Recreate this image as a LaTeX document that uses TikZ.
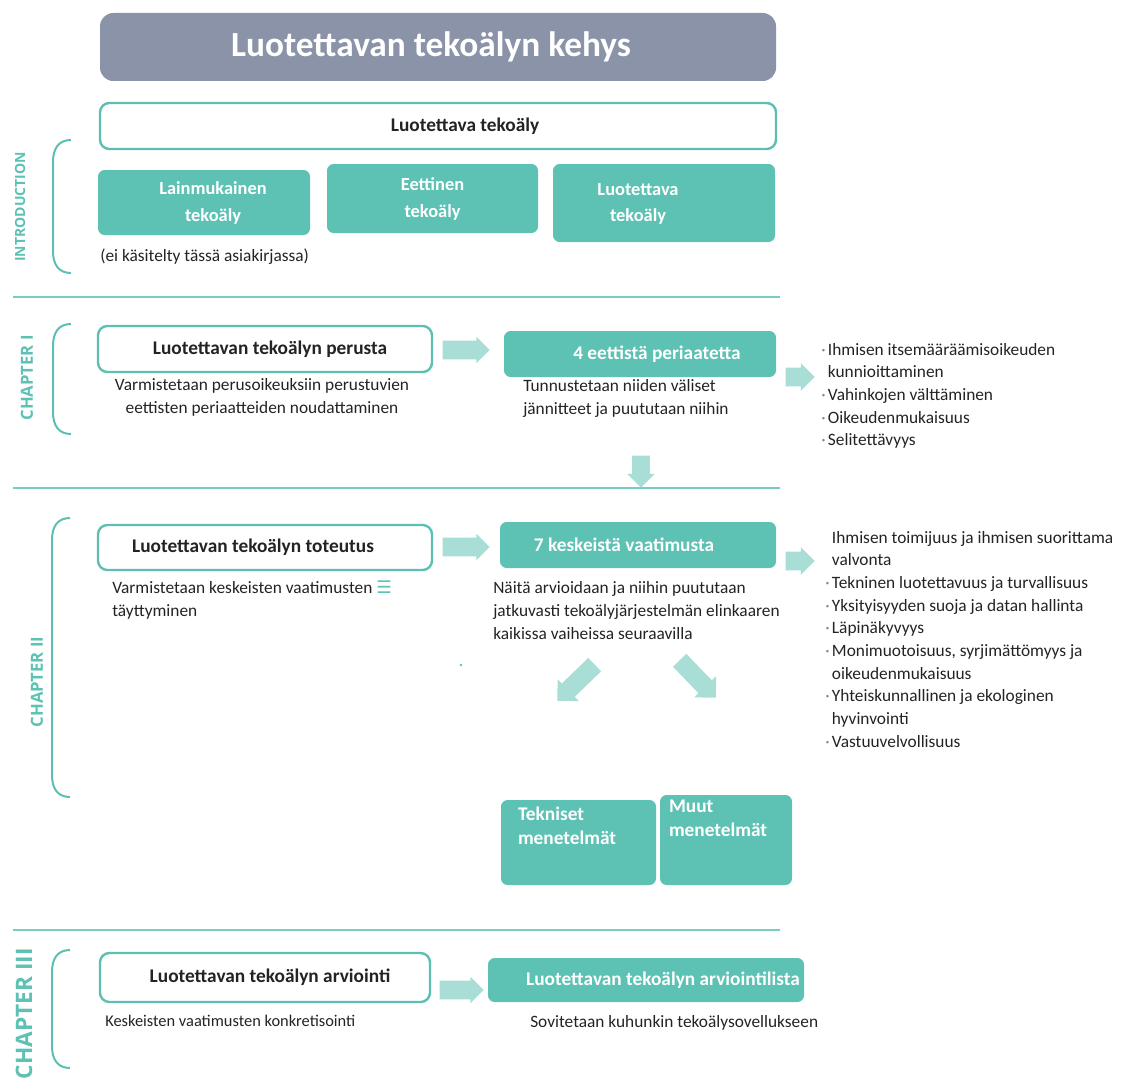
\documentclass[tikz,border=0pt]{standalone}
\usepackage{fontspec}
\setmainfont{Carlito}
\newfontfamily\chapfont{Open Sans}
\newfontfamily\symfont{DejaVu Sans}
\usetikzlibrary{shapes.arrows}
\definecolor{cTeal}{HTML}{5DC1B4}
\definecolor{cEdge}{HTML}{5CBFB1}
\definecolor{cArrow}{HTML}{A8DED6}
\definecolor{cTitle}{HTML}{8A93A8}
\definecolor{cLine}{HTML}{78CDC1}
\definecolor{cText}{HTML}{232323}
\definecolor{cBul}{HTML}{7A8A88}
\newcommand\mybul{\makebox[5pt][l]{\textcolor{cBul}{·}}}
\newcommand\myind{\hspace*{5pt}}
\newcommand\twolines[2]{\begin{tabular}{@{}c@{}}#1\\#2\end{tabular}}
\begin{document}
\begin{tikzpicture}[x=0.75pt,y=-0.75pt,
  tealfill/.style={fill=cTeal, draw=none, rounded corners=5pt, inner sep=0pt},
  outl/.style={draw=cEdge, line width=1.8pt, fill=white, rounded corners=7pt, inner sep=0pt},
  sz/.style 2 args={minimum width=#1*0.75pt, minimum height=#2*0.75pt},
  wlabel/.style={text=white, font=\fontsize{14.5}{20}\selectfont\bfseries, align=center},
  wlabeltwo/.style={text=white, font=\fontsize{13.8}{20}\selectfont\bfseries, align=center},
  blabel/.style={text=cText, font=\fontsize{14.5}{16}\selectfont\bfseries},
  body/.style={text=cText, font=\fontsize{13}{17.25}\selectfont, align=left, inner sep=0pt, anchor=north west},
  chap/.style={text=cTeal, font=\chapfont\bfseries\fontsize{12.5}{14}\selectfont, rotate=90, inner sep=0pt},
  brk/.style={draw=cEdge, line width=1.5pt},
  sepline/.style={draw=cLine, line width=1.3pt},
  barrow/.style={single arrow, fill=cArrow, draw=none, inner xsep=0pt, anchor=tip}
]
\useasboundingbox (0,0) rectangle (1123,1077);

% ---------- title ----------
\node[fill=cTitle, rounded corners=10pt, inner sep=0pt, sz={676}{68},
      text=white, font=\fontsize{26.5}{30}\selectfont\bfseries] (title) at (438,47)
      {Luotettavan tekoälyn kehys\hspace*{10.5pt}};

% ---------- introduction ----------
\node[outl, sz={676}{46}, blabel] (lt) at (438,126) {\hspace*{40.5pt}Luotettava tekoäly};
\node[tealfill, sz={212}{65}, wlabeltwo] (b1) at (204,202.5) {\hspace*{13.5pt}\raisebox{-3.5pt}{\twolines{Lainmukainen}{tekoäly}}};
\node[tealfill, sz={211}{69}, wlabeltwo] (b2) at (432.5,198.5) {\raisebox{-2pt}{\twolines{Eettinen}{tekoäly}}};
\node[tealfill, sz={222}{78}, wlabeltwo] (b3) at (664,203) {\twolines{Luotettava}{tekoäly}\hspace*{39pt}};
\node[body] (note0) at (100,249) {(ei käsitelty tässä asiakirjassa)};
\node[chap, font=\chapfont\bfseries\fontsize{10.5}{12}\selectfont] (intro) at (20,207) {INTRODUCTION};
\draw[brk] (71,140) .. controls (59,140) and (53,148) .. (53,162) -- (53,251) .. controls (53,265) and (59,273) .. (71,273);
\draw[sepline] (13,297) -- (780,297);

% ---------- chapter I ----------
\node[chap] (ch1) at (27,378) {CHAPTER I};
\draw[brk] (71,324) .. controls (59,324) and (53,332) .. (53,346) -- (53,412) .. controls (53,426) and (59,434) .. (71,434);
\node[outl, sz={334}{46}, blabel] (p1) at (265,349) {\hspace*{7.5pt}Luotettavan tekoälyn perusta};
\node[body, anchor=north, align=center] (d1) at (262,378) {Varmistetaan perusoikeuksiin perustuvien\\eettisten periaatteiden noudattaminen};
\node[barrow, minimum height=35.25pt, inner ysep=6.75pt, single arrow head extend=3pt] (a1) at (490,350) {};
\node[tealfill, sz={272}{46}, wlabel] (e4) at (640,354) {\hspace*{25.5pt}4 eettistä periaatetta};
\node[body] (d2) at (523,379) {Tunnustetaan niiden väliset\\jännitteet ja puututaan niihin};
\node[barrow, minimum height=21.75pt, inner ysep=6.75pt, single arrow head extend=3.4pt] (a2) at (815,377) {};
\node[body, font=\fontsize{13}{17}\selectfont] (l1) at (821,343)
  {\mybul Ihmisen itsemääräämisoikeuden\\\myind kunnioittaminen\\\mybul Vahinkojen välttäminen\\\mybul Oikeudenmukaisuus\\\mybul Selitettävyys};
\node[barrow, rotate=-90, minimum height=24pt, inner ysep=6.4pt, single arrow head extend=3.75pt] (a3) at (641,488) {};
\draw[sepline] (13,488) -- (780,488);

% ---------- chapter II ----------
\node[chap] (ch2) at (37,682) {CHAPTER II};
\draw[brk] (70,518) .. controls (58,518) and (52,526) .. (52,540) -- (52,775) .. controls (52,789) and (58,797) .. (70,797);
\node[outl, sz={334}{45}, blabel] (t1) at (265,547.5) {Luotettavan tekoälyn toteutus\hspace*{18pt}};
\node[body] (d3) at (112,581) {Varmistetaan keskeisten vaatimusten {\symfont\bfseries\textcolor{cTeal}{☰}}\\täyttyminen};
\node[barrow, minimum height=35.25pt, inner ysep=6.75pt, single arrow head extend=3pt] (a4) at (490,547) {};
\node[tealfill, sz={276}{46}, wlabel] (k7) at (638,545) {7 keskeistä vaatimusta\hspace*{21pt}};
\node[body] (d4) at (493,581) {Näitä arvioidaan ja niihin puututaan\\jatkuvasti tekoälyjärjestelmän elinkaaren\\kaikissa vaiheissa seuraavilla};
\node[barrow, minimum height=21.75pt, inner ysep=6.75pt, single arrow head extend=3.4pt] (a5) at (815,561) {};
\node[body, font=\fontsize{13}{17}\selectfont] (l2) at (825,531)
  {\myind Ihmisen toimijuus ja ihmisen suorittama\\\myind valvonta\\\mybul Tekninen luotettavuus ja turvallisuus\\\mybul Yksityisyyden suoja ja datan hallinta\\\mybul Läpinäkyvyys\\\mybul Monimuotoisuus, syrjimättömyys ja\\\myind oikeudenmukaisuus\\\mybul Yhteiskunnallinen ja ekologinen\\\myind hyvinvointi\\\mybul Vastuuvelvollisuus};
\fill[cTeal] (461,665) circle (1.3);
\node[barrow, rotate=224, minimum height=39pt, inner ysep=6.75pt, single arrow head extend=4.5pt] (a6) at (557,701) {};
\node[barrow, rotate=-46, minimum height=39pt, inner ysep=6.75pt, single arrow head extend=4.5pt] (a7) at (716,698) {};
\node[tealfill, sz={155}{85}, inner xsep=12.75pt, inner ysep=5pt, text=white, font=\fontsize{14.5}{18.5}\selectfont\bfseries] (tek) at (578.5,842.5)
  {\parbox[c][53.75pt][t]{90.75pt}{\raggedright Tekniset\\menetelmät}};
\node[tealfill, sz={132}{90}, inner xsep=6.75pt, inner ysep=3.5pt, text=white, font=\fontsize{14.5}{18.5}\selectfont\bfseries] (muut) at (726,840)
  {\parbox[c][60.5pt][t]{85.5pt}{\raggedright Muut\\menetelmät}};
\draw[sepline] (13,930) -- (780,930);

% ---------- chapter III ----------
\node[chap, anchor=east, font=\chapfont\bfseries\fontsize{17}{19}\selectfont] (ch3) at (24,948) {CHAPTER III};
\draw[brk] (70,950) .. controls (58,950) and (52,958) .. (52,972) -- (52,1046) .. controls (52,1060) and (58,1068) .. (70,1068);
\node[outl, sz={330}{49}, blabel] (arv) at (265,977.5) {\hspace*{7.5pt}Luotettavan tekoälyn arviointi};
\node[barrow, minimum height=33pt, inner ysep=6.75pt, single arrow head extend=3pt] (a8) at (484,990) {};
\node[tealfill, sz={316}{44}, wlabel] (lista) at (646,980) {\hspace*{25.5pt}Luotettavan tekoälyn arviointilista};
\node[body, font=\fontsize{12.3}{17}\selectfont] (d5) at (105,1015) {Keskeisten vaatimusten konkretisointi};
\node[body] (d6) at (530,1015) {Sovitetaan kuhunkin tekoälysovellukseen};
\end{tikzpicture}
\end{document}
